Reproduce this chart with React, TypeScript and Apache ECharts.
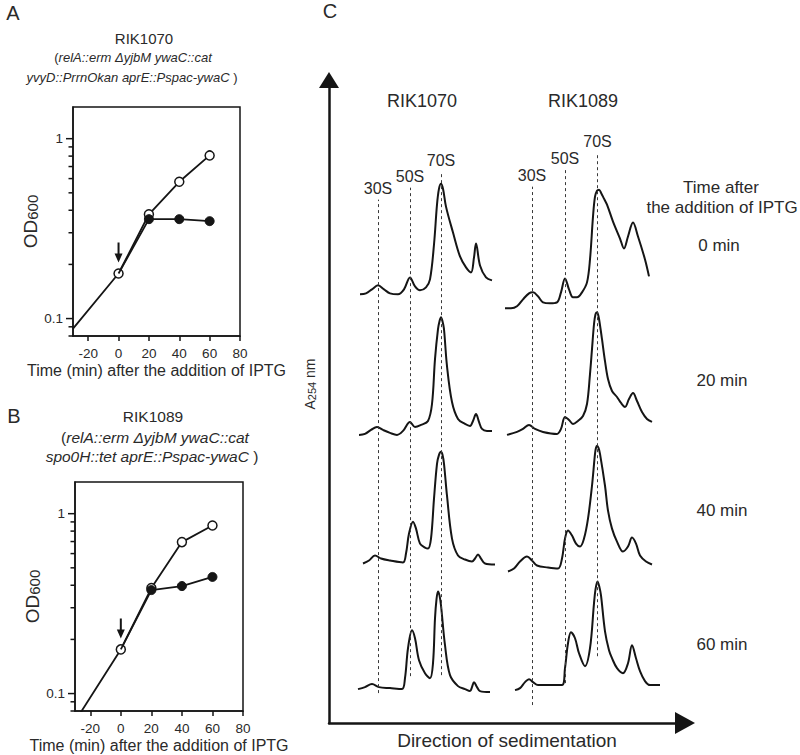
import React, { useEffect, useRef } from 'react';
import * as echarts from 'echarts';

// ---------- Panels A & B: growth curves (OD600, log scale) ----------
const timeMin = [0, 20, 40, 60];
const preTime = -30;
const odA_pre = 0.088;
const odA_open = [0.178, 0.38, 0.576, 0.807];
const odA_filled = [0.178, 0.357, 0.357, 0.348];
const odB_pre = 0.07;
const odB_open = [0.176, 0.386, 0.695, 0.86];
const odB_filled = [0.176, 0.376, 0.396, 0.445];

const xTicks = [-20, 0, 20, 40, 60, 80];
const xMin = -30;
const xMax = 80;
const odMin = 0.08;
const odMax = 1.5;
const yMajorTicks = [0.1, 1];
const yMinorTicks = [0.08, 0.09, 0.2, 0.3, 0.4, 0.5, 0.6, 0.7, 0.8, 0.9];

// ---------- Panel C: sucrose-gradient profiles (A254) ----------
const rowLabels = ['0 min', '20 min', '40 min', '60 min'];
const strains = ['RIK1070', 'RIK1089'];
const baseline1070 = [430, 289, 160, 34];
const baseline1089 = [416, 289, 155, 38];

const rik1070_0 = [[31,0],[37,1],[43,5],[49,9],[55,5],[61,1],[69,0],[75,5],[81,17],[86,8],[91,4],[97,7],[101,15],[105,50],[108,90],[110,106],[112,111],[114,106],[117,88],[124,62],[131,38],[137,27],[142,22],[145,37],[147,51],[151,29],[157,17],[163,14]];
const rik1070_20 = [[30,0],[36,1],[42,5],[48,8],[54,5],[61,2],[68,0],[74,4],[81,13],[86,8],[92,10],[99,14],[103,31],[106,76],[109,106],[110.5,114],[112,118],[113.5,114],[115,106],[118,69],[123,33],[129,16],[136,11],[141,9],[144,14],[147,21],[150,13],[153,6],[158,4],[163,4]];
const rik1070_40 = [[34,0],[40,3],[46,8],[52,5],[61,3],[74,1],[77,10],[80,30],[84,42],[87,35],[91,20],[96,16],[99,15],[102,25],[105,65],[108,100],[110,109],[112,112],[113.5,109],[115,100],[118,68],[123,25],[129,8],[136,4],[143,2],[146,5],[149,9],[152,5],[156,0],[166,-1]];
const rik1070_60 = [[29,0],[36,2],[43,5],[50,2],[61,1],[73,0],[76,11],[79,41],[83,59],[86,51],[90,29],[96,16],[101,11],[104,26],[106,71],[107.5,90],[109,98],[110.5,94],[112,84],[116,44],[121,14],[129,3],[136,0],[141,-2],[143,2],[145,7],[148,2],[151,-2],[161,-3]];

const rik1089_0 = [[176,0],[182,0],[188,2],[194,9],[200,15],[204,16],[209,12],[214,6],[221,5],[228,6],[232,16],[236,30],[240,19],[244,11],[248,11],[253,16],[258,26],[261,49],[264,92],[266,112],[268,118],[270,119],[272,116],[275,110],[278,104],[284,87],[291,70],[295,60],[299,72],[304,86],[309,72],[316,49],[320,32]];
const rik1089_20 = [[178,0],[188,3],[194,6],[200,10],[206,6],[214,3],[228,1],[232,6],[236,18],[240,15],[244,11],[249,14],[254,19],[258,31],[261,61],[263,86],[265,111],[266.5,121],[268,123],[269.5,119],[271,110],[273,96],[276,74],[279,56],[283,44],[288,38],[292,32],[296,28],[300,36],[304,42],[308,34],[313,23],[318,16],[323,13]];
const rik1089_40 = [[179,-3],[185,0],[191,7],[198,12],[203,8],[208,3],[219,1],[229,0],[233,10],[236,30],[239,38],[243,33],[247,25],[251,22],[255,30],[259,50],[263,83],[266,115],[267,121],[268,123],[269.5,121],[271,115],[276,83],[279,58],[283,40],[288,27],[294,17],[299,22],[303,31],[307,25],[311,13],[317,7],[323,4]];
const rik1089_60 = [[186,-5],[191,-3],[196,3],[200,6],[204,3],[209,0],[221,0],[233,0],[236,17],[239,42],[242,53],[246,47],[250,32],[256,19],[261,37],[265,82],[266.5,96],[268.5,104],[270.5,98],[272,90],[276,54],[280,35],[283,27],[288,17],[294,12],[299,22],[303,40],[307,27],[311,14],[316,4],[321,0],[331,0]];

const peakNames = ['30S', '50S', '70S'];
const peaks1070 = [49, 81, 112];
const peaks1070Bottom = [30, 47, 48];
const peaks1070Top = [525, 537, 553];
const peaks1089 = [203, 236, 268.5];
const peaks1089Bottom = [18, 40, 67];
const peaks1089Top = [538, 555, 572];

const FONT = '"Liberation Sans", Arial, Helvetica, sans-serif';
const INK = '#151515';
const TXT = '#2a2a2a';

function growthSeries(xi: number, yi: number, pre: number, open: number[], filled: number[]) {
  const openData: any[] = [{ value: [preTime, pre], symbol: 'none' }];
  timeMin.forEach((t, i) => openData.push([t, open[i]]));
  const filledData: any[] = [{ value: [timeMin[0], filled[0]], symbol: 'none' }];
  timeMin.forEach((t, i) => { if (i > 0) filledData.push([t, filled[i]]); });
  const tickData = [
    ...yMajorTicks.map((v) => [xMin, v, 1]),
    ...yMinorTicks.map((v) => [xMin, v, 0]),
  ];
  return [
    {
      type: 'line', xAxisIndex: xi, yAxisIndex: yi, data: openData, z: 3,
      symbol: 'circle', symbolSize: 9,
      lineStyle: { color: INK, width: 1.8 },
      itemStyle: { color: '#ffffff', borderColor: INK, borderWidth: 1.5 },
      markPoint: {
        silent: true,
        data: [{ coord: [timeMin[0], open[0]] }],
        symbol: 'path://M3,0L5,0L5,11L8,11L4,20L0,11L3,11Z',
        symbolSize: [8, 20], symbolOffset: [0, -21],
        itemStyle: { color: INK }, label: { show: false },
      },
    },
    {
      type: 'line', xAxisIndex: xi, yAxisIndex: yi, data: filledData, z: 4,
      symbol: 'circle', symbolSize: 9,
      lineStyle: { color: INK, width: 1.8 },
      itemStyle: { color: INK, borderColor: INK, borderWidth: 1 },
    },
    {
      // tick marks of the logarithmic OD axis (major at decades, minor in between)
      type: 'custom', xAxisIndex: xi, yAxisIndex: yi, silent: true, clip: false, z: 5,
      data: tickData,
      encode: { x: 0, y: 1 },
      renderItem: (params: any, api: any) => {
        const p = api.coord([api.value(0), api.value(1)]);
        const len = api.value(2) ? 7 : 4.5;
        return {
          type: 'line',
          shape: { x1: p[0] - len, y1: p[1], x2: p[0], y2: p[1] },
          style: { stroke: INK, lineWidth: 1.5 },
        };
      },
    },
  ];
}

function logLabel(v: number) {
  if (Math.abs(v - 1) < 1e-6) return '1';
  if (Math.abs(v - 0.1) < 1e-7) return '0.1';
  return '';
}

function growthAxes(gridIndex: number) {
  const x = {
    type: 'value', gridIndex, min: xMin, max: xMax,
    axisLine: { show: true, onZero: false, lineStyle: { color: INK, width: 1.5 } },
    axisTick: { show: true, length: 5, customValues: xTicks, lineStyle: { color: INK, width: 1.5 } },
    axisLabel: { customValues: xTicks, fontSize: 13.5, color: TXT, margin: 10, fontFamily: FONT },
    splitLine: { show: false },
    name: 'Time (min) after the addition of IPTG', nameLocation: 'middle', nameGap: 26,
    nameTextStyle: { fontSize: 16, color: TXT, fontFamily: FONT },
  };
  const yMain = {
    type: 'log', logBase: 10, gridIndex, min: odMin, max: odMax, position: 'left',
    axisLine: { show: true, onZero: false, lineStyle: { color: INK, width: 1.5 } },
    axisTick: { show: false },
    axisLabel: { fontSize: 13.5, color: TXT, margin: 10, fontFamily: FONT, formatter: logLabel },
    splitLine: { show: false },
    name: '{a|OD}{b|600}', nameLocation: 'middle', nameGap: 27,
    nameTextStyle: {
      rich: {
        a: { fontSize: 19, color: TXT, fontFamily: FONT },
        b: { fontSize: 15, color: TXT, fontFamily: FONT, padding: [4, 0, 0, 0] },
      },
    },
  };
  return { x, yMain };
}

function profileSeries(trace: number[][], base: number, markLine?: any) {
  const s: any = {
    type: 'line', xAxisIndex: 2, yAxisIndex: 2, silent: true,
    data: trace.map(([p, a]) => [p, a + base]),
    smooth: 0.35, symbol: 'none',
    lineStyle: { color: INK, width: 2 },
    z: 3,
  };
  if (markLine) s.markLine = markLine;
  return s;
}

function peakMarkLine(pos: number[], bottom: number[], top: number[]) {
  return {
    silent: true, symbol: ['none', 'none'], animation: false,
    lineStyle: { color: '#3a3a3a', width: 1, type: [3, 3] },
    label: { show: true, position: 'end', formatter: '{b}', fontSize: 16, color: TXT, fontFamily: FONT, distance: 3 },
    data: pos.map((p, i) => [
      { name: peakNames[i], coord: [p, bottom[i]] },
      { coord: [p, top[i]] },
    ]),
  };
}

export default function App() {
  const ref = useRef<HTMLDivElement>(null);
  useEffect(() => {
    if (!ref.current) return;
    const chart = echarts.init(ref.current, undefined, { renderer: 'svg' });
    const A = growthAxes(0);
    const B = growthAxes(1);

    const italic = { fontStyle: 'italic', fontFamily: FONT, fill: TXT };
    const texts: any[] = [
      { type: 'text', x: 13, y: 13, style: { text: 'A', font: `20px ${FONT}`, fill: TXT, textAlign: 'center', textVerticalAlign: 'middle' } },
      { type: 'text', x: 14, y: 416, style: { text: 'B', font: `20px ${FONT}`, fill: TXT, textAlign: 'center', textVerticalAlign: 'middle' } },
      { type: 'text', x: 330, y: 11, style: { text: 'C', font: `20px ${FONT}`, fill: TXT, textAlign: 'center', textVerticalAlign: 'middle' } },
      { type: 'text', x: 144, y: 38, style: { text: strains[0], font: `15px ${FONT}`, fill: TXT, textAlign: 'center', textVerticalAlign: 'middle' } },
      { type: 'text', x: 133, y: 57, style: { text: '{n|(}{i|relA::erm ΔyjbM ywaC::cat}', textAlign: 'center', textVerticalAlign: 'middle', rich: { n: { fontSize: 13, fontFamily: FONT, fill: TXT }, i: { ...italic, fontSize: 13 } } } },
      { type: 'text', x: 132, y: 77, style: { text: '{i|yvyD::PrrnOkan aprE::Pspac-ywaC}{n| )}', textAlign: 'center', textVerticalAlign: 'middle', rich: { n: { fontSize: 13, fontFamily: FONT, fill: TXT }, i: { ...italic, fontSize: 13 } } } },
      { type: 'text', x: 153, y: 416, style: { text: strains[1], font: `15.5px ${FONT}`, fill: TXT, textAlign: 'center', textVerticalAlign: 'middle' } },
      { type: 'text', x: 155, y: 437, style: { text: '{n|(}{i|relA::erm ΔyjbM ywaC::cat}', textAlign: 'center', textVerticalAlign: 'middle', rich: { n: { fontSize: 15.5, fontFamily: FONT, fill: TXT }, i: { ...italic, fontSize: 15.5 } } } },
      { type: 'text', x: 152, y: 456, style: { text: '{i|spo0H::tet aprE::Pspac-ywaC}{n| )}', textAlign: 'center', textVerticalAlign: 'middle', rich: { n: { fontSize: 15.5, fontFamily: FONT, fill: TXT }, i: { ...italic, fontSize: 15.5 } } } },
      { type: 'text', x: 422, y: 101, style: { text: strains[0], font: `18px ${FONT}`, fill: TXT, textAlign: 'center', textVerticalAlign: 'middle' } },
      { type: 'text', x: 583, y: 101, style: { text: strains[1], font: `18px ${FONT}`, fill: TXT, textAlign: 'center', textVerticalAlign: 'middle' } },
      { type: 'text', x: 721, y: 187, style: { text: 'Time after', font: `17px ${FONT}`, fill: TXT, textAlign: 'center', textVerticalAlign: 'middle' } },
      { type: 'text', x: 722, y: 207, style: { text: 'the addition of IPTG', font: `17px ${FONT}`, fill: TXT, textAlign: 'center', textVerticalAlign: 'middle' } },
      { type: 'text', x: 719, y: 245, style: { text: rowLabels[0], font: `17px ${FONT}`, fill: TXT, textAlign: 'center', textVerticalAlign: 'middle' } },
      { type: 'text', x: 722, y: 380, style: { text: rowLabels[1], font: `17px ${FONT}`, fill: TXT, textAlign: 'center', textVerticalAlign: 'middle' } },
      { type: 'text', x: 722, y: 510, style: { text: rowLabels[2], font: `17px ${FONT}`, fill: TXT, textAlign: 'center', textVerticalAlign: 'middle' } },
      { type: 'text', x: 722, y: 644, style: { text: rowLabels[3], font: `17px ${FONT}`, fill: TXT, textAlign: 'center', textVerticalAlign: 'middle' } },
      { type: 'text', x: 310, y: 384, rotation: Math.PI / 2, style: { text: '{a|A}{b|254}{a| nm}', textAlign: 'center', textVerticalAlign: 'middle', rich: { a: { fontSize: 14, fontFamily: FONT, fill: TXT }, b: { fontSize: 11, fontFamily: FONT, fill: TXT, padding: [3, 0, 0, 0] } } } },
    ];

    const option: any = {
      animation: false,
      backgroundColor: '#ffffff',
      textStyle: { fontFamily: FONT },
      grid: [
        { left: 73, top: 107, width: 167, height: 229, show: true, borderColor: INK, borderWidth: 1.5, backgroundColor: 'transparent' },
        { left: 75, top: 482, width: 168, height: 229, show: true, borderColor: INK, borderWidth: 1.5, backgroundColor: 'transparent' },
        { left: 329, top: 80, width: 356, height: 645, show: false },
      ],
      xAxis: [
        A.x,
        B.x,
        {
          type: 'value', gridIndex: 2, min: 0, max: 356,
          axisLine: { show: true, onZero: false, symbol: ['none', 'triangle'], symbolSize: [22, 20], lineStyle: { color: INK, width: 2.5 } },
          axisTick: { show: false }, axisLabel: { show: false }, splitLine: { show: false },
          name: 'Direction of sedimentation', nameLocation: 'middle', nameGap: 8,
          nameTextStyle: { fontSize: 19, color: TXT, fontFamily: FONT, verticalAlign: 'top' },
        },
      ],
      yAxis: [
        A.yMain,
        B.yMain,
        {
          type: 'value', gridIndex: 2, min: 0, max: 645,
          axisLine: { show: true, onZero: false, symbol: ['none', 'triangle'], symbolSize: [20, 16], lineStyle: { color: INK, width: 2.5 } },
          axisTick: { show: false }, axisLabel: { show: false }, splitLine: { show: false },
        },
      ],
      series: [
        ...growthSeries(0, 0, odA_pre, odA_open, odA_filled),
        ...growthSeries(1, 1, odB_pre, odB_open, odB_filled),
        profileSeries(rik1070_0, baseline1070[0], peakMarkLine(peaks1070, peaks1070Bottom, peaks1070Top)),
        profileSeries(rik1070_20, baseline1070[1]),
        profileSeries(rik1070_40, baseline1070[2]),
        profileSeries(rik1070_60, baseline1070[3]),
        profileSeries(rik1089_0, baseline1089[0], peakMarkLine(peaks1089, peaks1089Bottom, peaks1089Top)),
        profileSeries(rik1089_20, baseline1089[1]),
        profileSeries(rik1089_40, baseline1089[2]),
        profileSeries(rik1089_60, baseline1089[3]),
      ],
      graphic: { elements: texts },
    };
    chart.setOption(option);
    return () => chart.dispose();
  }, []);
  return <div ref={ref} style={{ position: 'fixed', left: 0, top: 0, width: 800, height: 755, background: '#fff' }} />;
}
